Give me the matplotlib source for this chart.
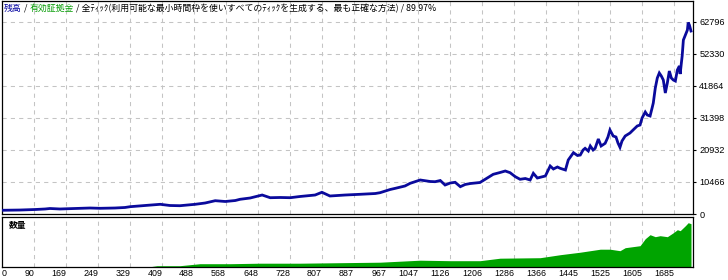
import matplotlib
matplotlib.use("Agg")
import matplotlib.pyplot as plt

# ---- data ----
trade_idx = [0, 54, 92, 117, 129, 154, 191, 229, 254, 291, 316, 329, 366, 404, 428, 453,
             491, 516, 541, 566, 591, 603, 628, 658, 678, 703, 728, 752, 790, 807, 827, 865,
             902, 940, 952, 977, 990, 1014, 1027, 1052, 1077, 1089, 1102, 1114, 1127, 1139,
             1152, 1164, 1177, 1201, 1234, 1251, 1264, 1276, 1289, 1301, 1314, 1326, 1334,
             1344, 1351, 1364, 1376, 1384, 1394, 1401, 1414, 1421, 1434, 1444, 1451, 1458,
             1463, 1471, 1476, 1483, 1488, 1496, 1503, 1513, 1520, 1525, 1533, 1540, 1545,
             1550, 1555, 1563, 1575, 1580, 1593, 1600, 1605, 1613, 1618, 1625, 1630, 1633,
             1638, 1643, 1648, 1653, 1658, 1663, 1668, 1673, 1678, 1683, 1688, 1693, 1698,
             1700, 1703, 1705, 1708, 1713, 1718, 1720, 1723, 1725, 1727]
balance = [1200, 1300, 1470, 1640, 1800, 1640, 1800, 1960, 1860, 1960, 2130, 2390, 2780, 3170,
           2780, 2710, 3170, 3600, 4350, 4090, 4410, 4810, 5230, 6210, 5330, 5400, 5330, 5720,
           6210, 7100, 5890, 6210, 6440, 6700, 6970, 8010, 8400, 9160, 10040, 11120, 10630,
           10560, 10950, 9480, 10140, 10370, 8930, 9650, 9970, 10300, 12980, 13570, 14060,
           13510, 12200, 11350, 11610, 11120, 13310, 11770, 12000, 12430, 15700, 14720, 15370,
           14940, 14390, 17660, 20050, 19130, 19290, 20930, 21480, 20600, 22240, 20930, 21480,
           24530, 22240, 23120, 25180, 27470, 25510, 25180, 23220, 21810, 23870, 25510, 26490,
           27140, 28780, 29100, 31390, 33350, 32370, 32050, 34660, 36300, 41200, 44470, 46110,
           45130, 43820, 39570, 42840, 46760, 44470, 43820, 43490, 47090, 48400, 45780, 49380,
           51670, 56900, 58530, 60170, 62620, 61800, 60820, 59840]

vol_idx = [379, 396, 453, 503, 578, 653, 752, 852, 952, 1052, 1127, 1201, 1251, 1351, 1401,
           1451, 1501, 1525, 1550, 1563, 1600, 1613, 1625, 1638, 1650, 1668, 1683, 1693, 1700,
           1713, 1720, 1727]
volume = [0.0, 0.1, 0.1, 0.3, 0.3, 0.35, 0.35, 0.4, 0.45, 0.65, 0.6, 0.6, 0.85, 0.9, 1.2,
          1.45, 1.75, 1.75, 1.6, 1.9, 2.1, 2.8, 3.2, 3.0, 3.1, 3.0, 3.4, 3.7, 3.6, 4.1, 4.4, 4.3]

x_ticks = [90, 169, 249, 329, 409, 488, 568, 648, 728, 807, 887, 967, 1047, 1126, 1206,
           1286, 1366, 1445, 1525, 1605, 1685]
y_ticks = [0, 10466, 20932, 31398, 41864, 52330, 62796]

title_parts = [("残高", "#0000a0"), (" / ", "black"), ("有効証拠金", "#009a00"),
               (" / 全ﾃｨｯｸ(利用可能な最小時間枠を使いすべてのﾃｨｯｸを生成する、最も正確な方法) / 89.97%", "black")]
vol_label = "数量"

# ---- style ----
W, H = 728, 280
X0, X1 = 9.5, 1732
CJK = ["Noto Sans CJK JP", "DejaVu Sans"]
NUM = "Liberation Sans"
grid_kw = dict(color="#c4c4c4", linewidth=0.75, linestyle=(0, (4, 4)))

fig = plt.figure(figsize=(W / 100, H / 100), dpi=100, facecolor="white")


def fx(px):
    return px / W


def fy(py):
    return 1 - py / H


ax = fig.add_axes([fx(2), fy(214), fx(693) - fx(2), fy(1) - fy(214)])
axv = fig.add_axes([fx(2), fy(266.7), fx(693) - fx(2), fy(216.7) - fy(266.7)])

for a in (ax, axv):
    a.set_facecolor("white")
    for s in a.spines.values():
        s.set_color("black")
        s.set_linewidth(0.9)
    a.set_xlim(X0, X1)
    for xt in x_ticks:
        a.axvline(xt, zorder=0, **grid_kw)

ax.plot(trade_idx, balance, color="#0a0a9c", linewidth=2.0, solid_joinstyle="miter", zorder=3)
ax.set_ylim(0, 69660)
for yt in y_ticks[1:]:
    ax.axhline(yt, zorder=0, **grid_kw)
ax.set_yticks(y_ticks)
ax.set_yticklabels([str(v) for v in y_ticks], fontsize=6.6, family=NUM)
ax.yaxis.tick_right()
ax.tick_params(axis="y", length=2, width=0.8, pad=2.5, right=True, left=False)
ax.set_xticks([])

axv.fill_between(vol_idx, volume, 0, color="#00a400", linewidth=0, zorder=2)
axv.set_ylim(0, 5.0)
axv.set_yticks([])
axv.set_xticks([X0] + x_ticks)
axv.set_xticklabels(["0"] + [str(v) for v in x_ticks], fontsize=6.4, family=NUM)
axv.tick_params(axis="x", length=0, pad=2.0)
for i, lab in enumerate(axv.get_xticklabels()):
    lab.set_ha("left" if i == 0 else "right")
axv.text(fx(7) / (fx(693) - fx(2)), 0.83, vol_label, transform=axv.transAxes,
         fontsize=6.3, family=CJK, fontweight="bold", va="center", ha="left")

# title, chained coloured segments
renderer = fig.canvas.get_renderer()
xpos = fx(4)
for txt, col in title_parts:
    t = fig.text(xpos, fy(8.5), txt, color=col, fontsize=6.4, family=CJK,
                 va="center", ha="left", zorder=5)
    bb = t.get_window_extent(renderer)
    xpos = bb.x1 / fig.bbox.width

fig.savefig("out.png", dpi=100, facecolor="white")
